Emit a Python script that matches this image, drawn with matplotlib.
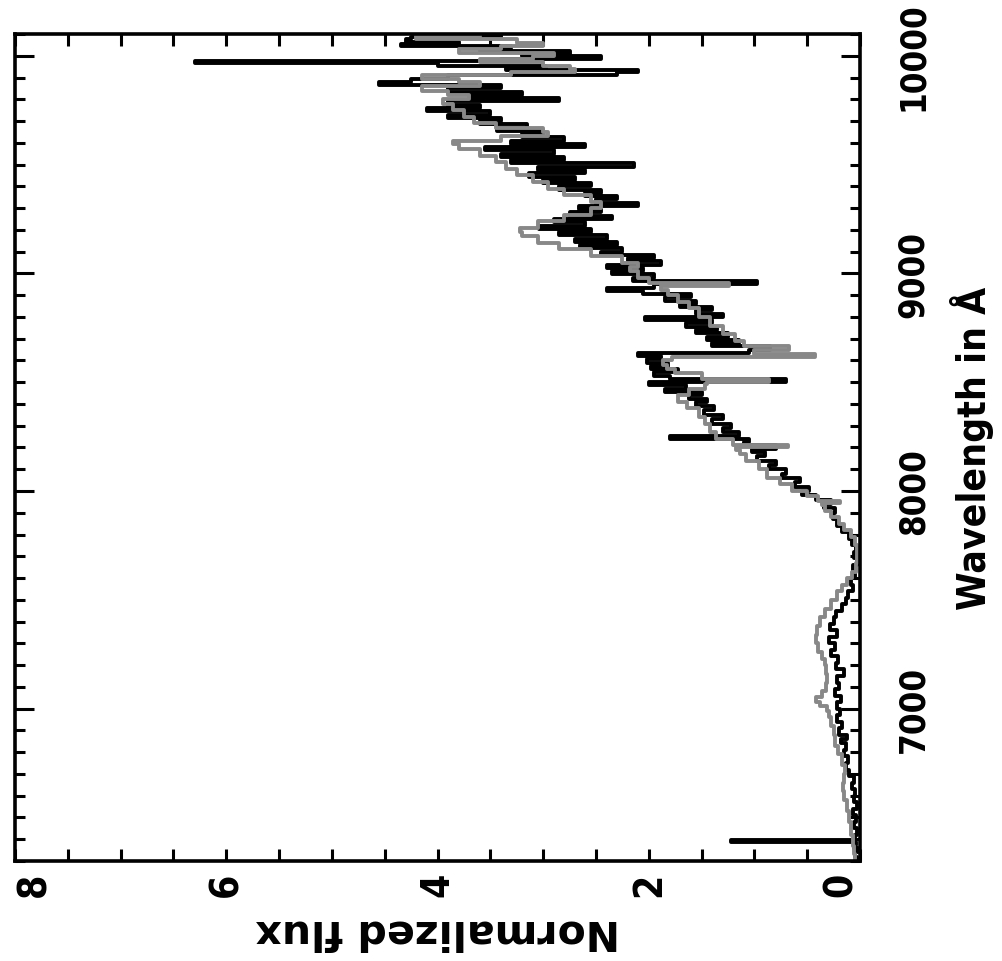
import matplotlib
matplotlib.use("Agg")
import matplotlib.pyplot as plt
from matplotlib import font_manager
from matplotlib.font_manager import FontProperties
from matplotlib.ticker import MultipleLocator

# model spectrum (grey), wavelength in A and normalized flux
model_wave = [6300, 6330, 6370, 6420, 6480, 6530, 6580, 6620, 6660, 6700,
              6740, 6790, 6830, 6880, 6920, 6960, 6990, 7010, 7030, 7055,
              7080, 7120, 7160, 7200, 7230, 7260, 7300, 7340, 7380, 7420,
              7460, 7500, 7540, 7570, 7600, 7630, 7670, 7710, 7750, 7790,
              7820, 7850, 7880, 7910, 7935, 7945, 7955, 7975, 8000, 8030,
              8060, 8100, 8140, 8170, 8190, 8200, 8210, 8240, 8270, 8310,
              8340, 8380, 8410, 8440, 8470, 8490, 8500, 8515, 8540, 8560,
              8580, 8600, 8615, 8630, 8650, 8665, 8690, 8720, 8760, 8800,
              8840, 8870, 8900, 8925, 8940, 8955, 8980, 9010, 9030, 9050,
              9080, 9110, 9140, 9170, 9190, 9210, 9240, 9270, 9300, 9330,
              9360, 9390, 9420, 9450, 9480, 9510, 9540, 9570, 9595, 9610,
              9630, 9650, 9670, 9690, 9720, 9750, 9780, 9800, 9820, 9840,
              9860, 9880, 9895, 9910, 9925, 9940, 9955, 9970, 9985, 10000,
              10015, 10030, 10045, 10060, 10075, 10090, 10105]
model_flux = [0.05, 0.06, 0.07, 0.09, 0.10, 0.12, 0.15, 0.16, 0.15, 0.14,
              0.17, 0.21, 0.24, 0.25, 0.27, 0.29, 0.31, 0.38, 0.42, 0.36,
              0.32, 0.31, 0.32, 0.33, 0.36, 0.40, 0.42, 0.41, 0.38, 0.33,
              0.27, 0.22, 0.17, 0.12, 0.08, 0.04, 0.03, 0.03, 0.05, 0.09,
              0.15, 0.20, 0.27, 0.33, 0.36, 0.19, 0.40, 0.50, 0.64, 0.76,
              0.88, 0.96, 1.08, 1.14, 1.17, 0.68, 1.20, 1.36, 1.42, 1.47,
              1.52, 1.64, 1.72, 1.62, 1.47, 1.45, 0.86, 1.50, 1.75, 1.83,
              1.87, 1.78, 0.43, 1.00, 0.67, 1.10, 1.18, 1.30, 1.42, 1.52,
              1.62, 1.72, 1.82, 1.88, 1.24, 2.00, 2.10, 2.18, 2.10, 2.25,
              2.55, 2.85, 3.05, 3.20, 3.22, 3.05, 2.80, 2.55, 2.45, 2.55,
              2.80, 2.95, 3.10, 3.25, 3.35, 3.45, 3.60, 3.80, 3.85, 3.40,
              2.95, 3.00, 3.45, 3.65, 3.75, 3.85, 3.95, 3.70, 3.90, 4.15,
              3.60, 3.80, 4.15, 3.30, 2.70, 2.75, 3.00, 3.60, 3.10, 2.90,
              3.80, 3.40, 3.00, 3.25, 4.20, 3.60, 3.10]

# observed spectrum (black)
obs_wave = [6300, 6320, 6340, 6360, 6375, 6385, 6395, 6420, 6450, 6480,
            6510, 6540, 6570, 6600, 6630, 6660, 6690, 6720, 6750, 6780,
            6810, 6840, 6860, 6880, 6910, 6940, 6970, 7000, 7030, 7060,
            7090, 7120, 7150, 7180, 7210, 7240, 7270, 7300, 7330, 7360,
            7390, 7420, 7450, 7480, 7510, 7540, 7570, 7600, 7630, 7660,
            7690, 7720, 7750, 7780, 7810, 7840, 7870, 7900, 7920, 7940,
            7960, 7980, 8000, 8020, 8040, 8060, 8080, 8100, 8120, 8140,
            8160, 8180, 8195, 8210, 8225, 8240, 8255, 8270, 8290, 8310,
            8330, 8350, 8370, 8390, 8410, 8425, 8440, 8455, 8470, 8485,
            8500, 8515, 8530, 8545, 8560, 8575, 8590, 8605, 8620, 8635,
            8650, 8665, 8680, 8695, 8710, 8725, 8740, 8755, 8770, 8785,
            8800, 8815, 8830, 8845, 8860, 8875, 8890, 8905, 8920, 8935,
            8950, 8965, 8980, 8995, 9010, 9025, 9040, 9055, 9070, 9085,
            9100, 9115, 9130, 9145, 9160, 9175, 9190, 9205, 9220, 9235,
            9250, 9265, 9280, 9295, 9310, 9325, 9340, 9355, 9370, 9385,
            9400, 9415, 9430, 9445, 9460, 9475, 9490, 9505, 9520, 9535,
            9550, 9565, 9580, 9595, 9610, 9625, 9640, 9655, 9670, 9685,
            9700, 9715, 9730, 9745, 9760, 9775, 9790, 9805, 9820, 9835,
            9850, 9865, 9880, 9895, 9910, 9925, 9935, 9945, 9955, 9965,
            9975, 9985, 10000, 10010, 10020, 10035, 10045, 10055, 10065, 10075,
            10085, 10095, 10105]
obs_flux = [0.03, 0.05, 0.02, 0.06, 0.04, 1.22, 0.05, 0.03, 0.06, 0.04,
            0.07, 0.03, 0.06, 0.05, 0.08, 0.06, 0.10, 0.13, 0.11, 0.15,
            0.13, 0.18, 0.12, 0.20, 0.17, 0.22, 0.19, 0.22, 0.18, 0.24,
            0.20, 0.22, 0.15, 0.23, 0.21, 0.27, 0.24, 0.29, 0.22, 0.28,
            0.25, 0.23, 0.17, 0.13, 0.11, 0.07, 0.09, 0.05, 0.07, 0.03,
            0.06, 0.04, 0.08, 0.10, 0.17, 0.22, 0.26, 0.24, 0.34, 0.27,
            0.42, 0.55, 0.48, 0.62, 0.57, 0.74, 0.70, 0.86, 0.80, 0.98,
            0.90, 1.02, 0.80, 1.10, 1.05, 1.80, 1.15, 1.30, 1.22, 1.40,
            1.30, 1.48, 1.38, 1.55, 1.45, 1.62, 1.50, 1.85, 1.65, 2.00,
            0.70, 1.80, 1.95, 1.72, 1.98, 1.82, 2.02, 1.88, 2.10, 1.05,
            0.85, 1.40, 1.15, 1.45, 1.25, 1.55, 1.35, 1.65, 1.40, 2.04,
            1.30, 1.55, 1.40, 1.70, 1.55, 1.85, 1.60, 2.05, 2.40, 1.95,
            0.98, 2.15, 1.95, 2.35, 2.05, 2.40, 1.88, 2.20, 1.95, 2.45,
            2.25, 2.65, 2.30, 2.70, 2.40, 2.85, 2.55, 3.04, 2.60, 2.90,
            2.35, 2.75, 2.45, 2.66, 2.10, 2.50, 2.30, 2.60, 2.45, 2.85,
            2.55, 3.00, 2.70, 3.13, 2.60, 3.05, 2.14, 3.30, 2.80, 3.40,
            2.90, 3.55, 2.60, 3.30, 2.80, 3.20, 3.00, 3.44, 3.15, 3.60,
            3.40, 3.90, 3.50, 4.10, 3.60, 3.90, 2.85, 3.70, 3.20, 3.90,
            3.40, 4.55, 4.25, 3.90, 2.30, 2.10, 3.35, 2.97, 4.00, 6.30,
            3.40, 2.45, 3.20, 2.75, 3.60, 3.30, 4.35, 3.80, 4.30, 4.25,
            3.40, 3.90, 3.50]

flux_ticks = [0, 2, 4, 6, 8]
flux_tick_labels = ["0", "2", "4", "6", "8"]
wave_ticks = [7000, 8000, 9000, 10000]
wave_tick_labels = ["7000", "8000", "9000", "10000"]


def narrow_bold_font():
    """Find a narrow bold face; the reference text is tall and narrow."""
    files = [f.fname for f in font_manager.fontManager.ttflist]
    for key in ["LiberationSansNarrow-Bold.", "DejaVuSansCondensed-Bold.",
                "RobotoCondensed-Bold.", "OpenSansCondensed-Bold",
                "NotoSans-CondensedBold."]:
        for path in files:
            if key.lower() in path.lower():
                return FontProperties(fname=path), 25
    return FontProperties(family=["Liberation Sans", "DejaVu Sans"],
                          weight="bold"), 24


def plot_spectrum(output_path="out.png"):
    font, size = narrow_bold_font()

    fig = plt.figure(figsize=(10.02, 9.62), dpi=100)
    ax = fig.add_axes([0.0150, 0.1040, 0.8433, 0.8596])

    ax.plot(obs_flux, obs_wave, color="black", linewidth=2.8,
            drawstyle="steps-pre")
    ax.plot(model_flux, model_wave, color="#888888", linewidth=2.8,
            drawstyle="steps-pre")

    ax.set_xlim(8, 0)
    ax.set_ylim(6300, 10100)

    ax.set_xticks(flux_ticks, flux_tick_labels)
    ax.xaxis.set_minor_locator(MultipleLocator(0.5))
    ax.set_yticks(wave_ticks, wave_tick_labels)
    ax.yaxis.set_minor_locator(MultipleLocator(100))

    ax.tick_params(axis="both", which="both", direction="in", top=True,
                   bottom=True, left=True, right=True, width=2.2)
    ax.tick_params(axis="x", which="both", length=8.5)
    ax.tick_params(axis="x", which="major", labelrotation=90, pad=8)
    ax.tick_params(axis="y", which="major", length=14, labelleft=False,
                   labelright=True, labelrotation=90, pad=26)
    ax.tick_params(axis="y", which="minor", length=7.5)

    for lbl in ax.get_yticklabels():
        lbl.set_fontproperties(font)
        lbl.set_fontsize(size)
        lbl.set_verticalalignment("center")
    for lbl in ax.get_xticklabels():
        lbl.set_fontproperties(font)
        lbl.set_fontsize(size + 3)
    xlabels = ax.get_xticklabels()
    xlabels[0].set_horizontalalignment("right")
    xlabels[-1].set_horizontalalignment("left")

    for spine in ax.spines.values():
        spine.set_linewidth(2.6)

    ax.set_xlabel("Normalized flux", rotation=180, family="DejaVu Sans",
                  weight="bold", fontsize=29.5, va="top")
    ax.xaxis.set_label_coords(0.5, -0.060)

    ylab = ax.set_ylabel("Wavelength in Å", rotation=90)
    ylab.set_fontproperties(font)
    ylab.set_fontsize(size + 3)
    ylab.set_rotation_mode("default")
    ylab.set_horizontalalignment("center")
    ylab.set_verticalalignment("center")
    ax.yaxis.set_label_coords(1.1325, 0.5)

    fig.savefig(output_path, dpi=100)
    plt.close(fig)


if __name__ == "__main__":
    assert len(model_wave) == len(model_flux)
    assert len(obs_wave) == len(obs_flux)
    plot_spectrum()
